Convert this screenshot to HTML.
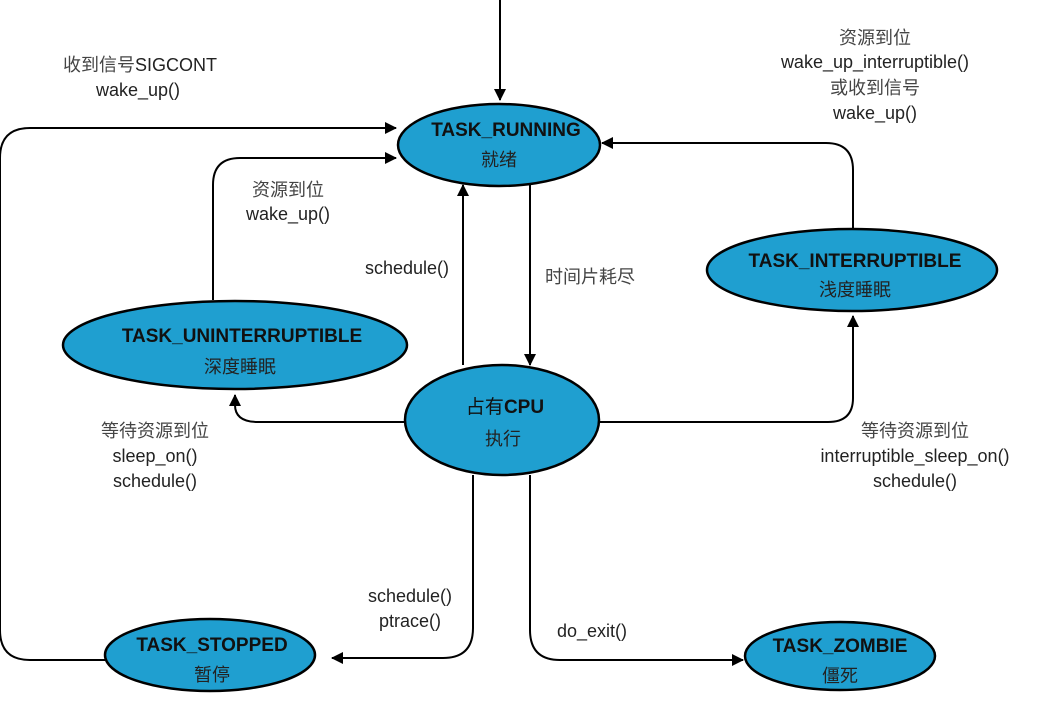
<!DOCTYPE html>
<html><head><meta charset="utf-8"><style>
html,body{margin:0;padding:0;background:#fff;width:1054px;height:711px;overflow:hidden}
svg text{font-family:"Liberation Sans","Noto Sans CJK SC",sans-serif;font-size:18px;fill:#222}
.b{font-weight:bold;font-size:19px;fill:#111}
.c{fill:#444}
</style></head><body>
<svg width="1054" height="711" viewBox="0 0 1054 711" xmlns="http://www.w3.org/2000/svg">
<defs>
<marker id="a" markerWidth="12" markerHeight="12" refX="11" refY="6" orient="auto" markerUnits="userSpaceOnUse">
<path d="M0,0 L12,6 L0,12 z" fill="#000"/></marker>
</defs>
<g fill="none" stroke="#000" stroke-width="2">
<path d="M500,0 L500,100" marker-end="url(#a)"/>
<path d="M105,660 L30,660 Q0,660 0,630 L0,158 Q0,128 30,128 L396,128" marker-end="url(#a)"/>
<path d="M213,300 L213,185 Q213,158 240,158 L396,158" marker-end="url(#a)"/>
<path d="M853,228 L853,170 Q853,143 826,143 L602,143" marker-end="url(#a)"/>
<path d="M463,365 L463,185" marker-end="url(#a)"/>
<path d="M530,185 L530,365" marker-end="url(#a)"/>
<path d="M405,422 L258,422 Q235,422 235,405 L235,395" marker-end="url(#a)"/>
<path d="M600,422 L828,422 Q853,422 853,398 L853,316" marker-end="url(#a)"/>
<path d="M473,475 L473,628 Q473,658 443,658 L332,658" marker-end="url(#a)"/>
<path d="M530,475 L530,630 Q530,660 560,660 L743,660" marker-end="url(#a)"/>
</g>
<g fill="#1f9fd0" stroke="#000" stroke-width="2.5">
<ellipse cx="499" cy="145" rx="101" ry="41"/>
<ellipse cx="852" cy="270" rx="145" ry="41"/>
<ellipse cx="235" cy="345" rx="172" ry="44"/>
<ellipse cx="502" cy="420" rx="97" ry="55"/>
<ellipse cx="210" cy="655" rx="105" ry="36"/>
<ellipse cx="840" cy="656" rx="95" ry="34"/>
</g>
<text class="b" x="506" y="136" text-anchor="middle">TASK_RUNNING</text>
<text x="499" y="166" text-anchor="middle">就绪</text>
<text class="b" x="855" y="267" text-anchor="middle">TASK_INTERRUPTIBLE</text>
<text x="855" y="296" text-anchor="middle">浅度睡眠</text>
<text class="b" x="242" y="342" text-anchor="middle">TASK_UNINTERRUPTIBLE</text>
<text x="240" y="373" text-anchor="middle">深度睡眠</text>
<text class="b" x="505" y="413" text-anchor="middle"><tspan style="font-weight:normal">占有</tspan>CPU</text>
<text x="503" y="445" text-anchor="middle">执行</text>
<text class="b" x="212" y="651" text-anchor="middle">TASK_STOPPED</text>
<text x="212" y="681" text-anchor="middle">暂停</text>
<text class="b" x="840" y="652" text-anchor="middle">TASK_ZOMBIE</text>
<text x="840" y="682" text-anchor="middle">僵死</text>
<text x="140" y="71" text-anchor="middle"><tspan class="c">收到信号</tspan>SIGCONT</text>
<text x="138" y="96" text-anchor="middle">wake_up()</text>
<text x="875" y="44" text-anchor="middle" class="c">资源到位</text>
<text x="875" y="68" text-anchor="middle">wake_up_interruptible()</text>
<text x="875" y="94" text-anchor="middle" class="c">或收到信号</text>
<text x="875" y="119" text-anchor="middle">wake_up()</text>
<text x="288" y="196" text-anchor="middle" class="c">资源到位</text>
<text x="288" y="220" text-anchor="middle">wake_up()</text>
<text x="407" y="274" text-anchor="middle">schedule()</text>
<text x="590" y="283" text-anchor="middle" class="c">时间片耗尽</text>
<text x="155" y="437" text-anchor="middle" class="c">等待资源到位</text>
<text x="155" y="462" text-anchor="middle">sleep_on()</text>
<text x="155" y="487" text-anchor="middle">schedule()</text>
<text x="915" y="437" text-anchor="middle" class="c">等待资源到位</text>
<text x="915" y="462" text-anchor="middle">interruptible_sleep_on()</text>
<text x="915" y="487" text-anchor="middle">schedule()</text>
<text x="410" y="602" text-anchor="middle">schedule()</text>
<text x="410" y="627" text-anchor="middle">ptrace()</text>
<text x="592" y="637" text-anchor="middle">do_exit()</text>
</svg>
</body></html>
